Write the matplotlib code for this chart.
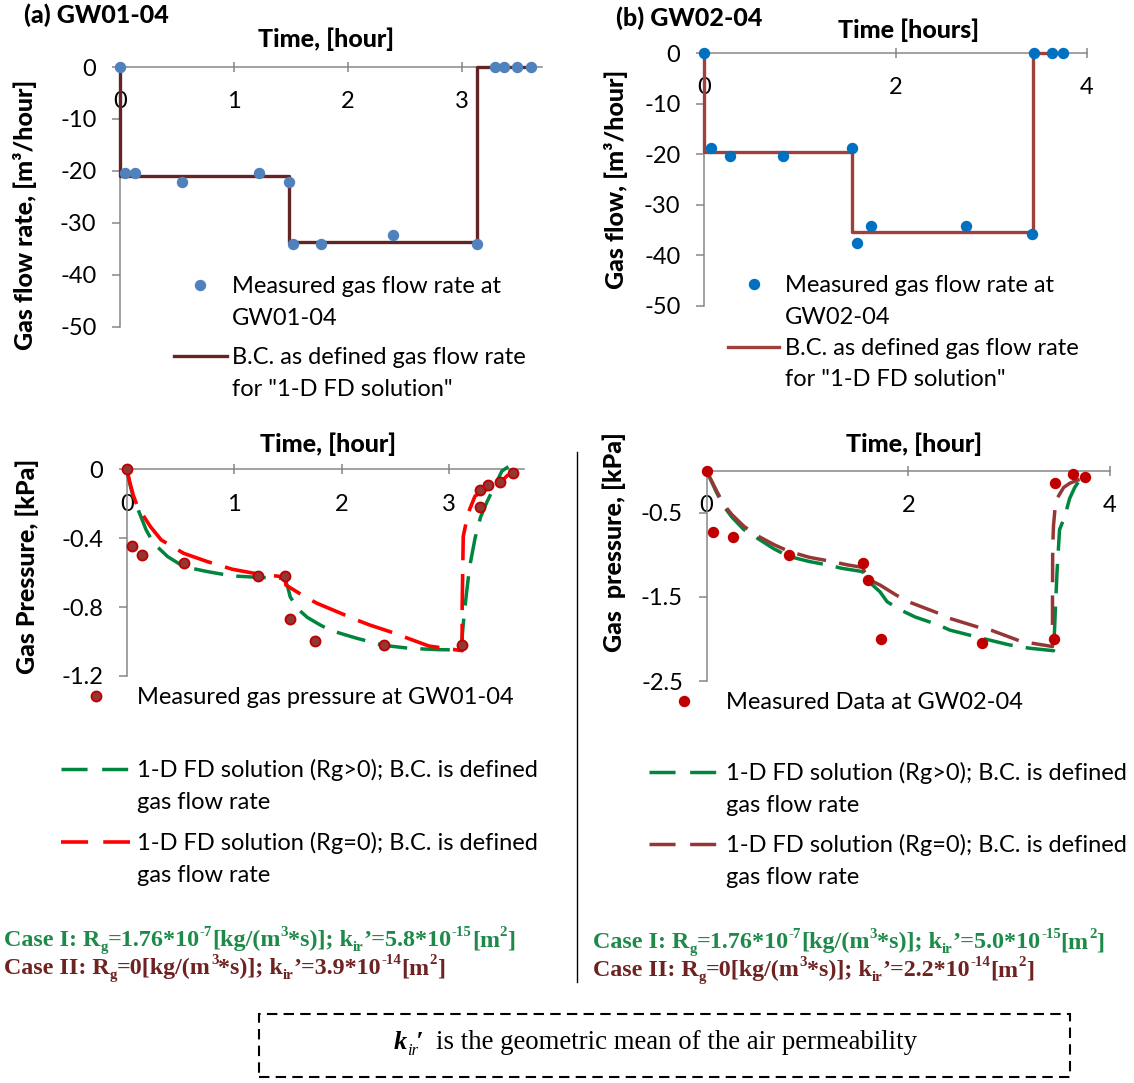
import matplotlib
matplotlib.use("Agg")
import matplotlib.pyplot as plt
from matplotlib.lines import Line2D
from matplotlib.patches import Rectangle

W, H, DPI = 1134, 1083, 100
plt.rcParams["axes.unicode_minus"] = False
plt.rcParams["font.family"] = ["Lato", "DejaVu Sans"]

# ---------------- data ----------------
# (a) GW01-04 : measured gas flow rate [m3/hour]
flow_a_t = [0.0, 0.04, 0.13, 0.54, 1.22, 1.48, 1.52, 1.76, 2.39, 3.13, 3.29, 3.37, 3.48, 3.60]
flow_a_q = [0.0, -20.4, -20.4, -22.1, -20.4, -22.1, -34.0, -34.0, -32.3, -34.0, 0.0, 0.0, 0.0, 0.0]
# boundary condition (step function) used by the 1-D FD solution
bc_a_t = [0.0, 0.0, 1.48, 3.13, 3.62]
bc_a_q = [0.0, -21.0, -33.7, 0.0, 0.0]

# (b) GW02-04 : measured gas flow rate [m3/hour]
flow_b_t = [0.0, 0.07, 0.27, 0.82, 1.55, 1.60, 1.74, 2.74, 3.43, 3.45, 3.63, 3.75]
flow_b_q = [0.0, -18.7, -20.4, -20.4, -18.7, -37.5, -34.1, -34.1, -35.8, 0.0, 0.0, 0.0]
bc_b_t = [0.0, 0.0, 1.55, 3.44, 3.75]
bc_b_q = [0.0, -19.5, -35.4, 0.0, 0.0]

# (a) GW01-04 : measured gas pressure [kPa]
pres_a_t = [0.0, 0.05, 0.14, 0.53, 1.22, 1.47, 1.52, 1.75, 2.39, 3.12, 3.29, 3.29, 3.36, 3.47, 3.59]
pres_a_p = [0.0, -0.443, -0.495, -0.546, -0.619, -0.619, -0.869, -0.995, -1.022, -1.022,
            -0.221, -0.120, -0.093, -0.074, -0.023]
# 1-D FD solution, Rg > 0
fd1_a_t = [0.0, 0.03, 0.06, 0.10, 0.18, 0.25, 0.38, 0.53, 0.75, 0.98, 1.22, 1.47,
           1.50, 1.52, 1.59, 1.68, 1.80, 1.89, 2.00, 2.14, 2.39, 2.64, 2.90, 3.11,
           3.13, 3.16, 3.19, 3.24, 3.29, 3.35, 3.42, 3.49, 3.55]
fd1_a_p = [0.0, -0.09, -0.16, -0.226, -0.352, -0.43, -0.507, -0.565, -0.594, -0.619, -0.627, -0.633,
           -0.69, -0.74, -0.81, -0.86, -0.904, -0.933, -0.955, -0.981, -1.022, -1.040, -1.047, -1.049,
           -0.90, -0.72, -0.565, -0.40, -0.28, -0.19, -0.10, -0.01, 0.015]
# 1-D FD solution, Rg = 0
fd0_a_t = [0.0, 0.03, 0.06, 0.10, 0.22, 0.32, 0.53, 0.75, 0.98, 1.22, 1.47,
           1.48, 1.66, 1.77, 2.14, 2.26, 2.45, 2.81, 3.12,
           3.12, 3.13, 3.16, 3.19, 3.24, 3.34, 3.47, 3.55]
fd0_a_p = [0.0, -0.08, -0.15, -0.217, -0.333, -0.41, -0.488, -0.536, -0.58, -0.608, -0.625,
           -0.672, -0.741, -0.778, -0.875, -0.904, -0.943, -1.026, -1.053,
           -0.80, -0.39, -0.30, -0.232, -0.155, -0.12, -0.08, -0.03]

# (b) GW02-04 : measured gas pressure [kPa]
pres_b_t = [0.0, 0.067, 0.266, 0.82, 1.55, 1.60, 1.73, 2.73, 3.44, 3.455, 3.63, 3.75]
pres_b_p = [0.0, -0.725, -0.792, -1.002, -1.093, -1.30, -1.997, -2.044, -1.997, -0.151, -0.043, -0.071]
fd1_b_t = [0.0, 0.05, 0.10, 0.17, 0.25, 0.37, 0.50, 0.67, 0.82, 1.02, 1.20, 1.34, 1.55,
           1.58, 1.62, 1.72, 1.79, 1.91, 2.07, 2.30, 2.41, 2.69, 3.00, 3.20, 3.44,
           3.45, 3.46, 3.475, 3.49, 3.50, 3.55, 3.60, 3.65, 3.72, 3.76]
fd1_b_p = [0.0, -0.13, -0.26, -0.42, -0.55, -0.70, -0.80, -0.93, -1.02, -1.08, -1.12, -1.16, -1.20,
           -1.27, -1.33, -1.44, -1.557, -1.648, -1.74, -1.834, -1.894, -1.98, -2.07, -2.11, -2.14,
           -1.90, -1.60, -1.20, -0.90, -0.70, -0.55, -0.33, -0.20, -0.071, -0.05]
fd0_b_t = [0.0, 0.05, 0.10, 0.17, 0.25, 0.37, 0.50, 0.67, 0.82, 1.02, 1.20, 1.40, 1.55,
           1.58, 1.62, 1.72, 1.88, 2.00, 2.30, 2.41, 2.68, 2.83, 3.12, 3.43,
           3.43, 3.432, 3.44, 3.455, 3.48, 3.54, 3.60, 3.68, 3.77]
fd0_b_p = [0.0, -0.12, -0.24, -0.40, -0.52, -0.66, -0.77, -0.88, -0.96, -1.03, -1.07, -1.12, -1.15,
           -1.25, -1.30, -1.359, -1.478, -1.557, -1.695, -1.755, -1.855, -1.90, -2.03, -2.09,
           -1.50, -0.90, -0.65, -0.45, -0.32, -0.20, -0.15, -0.11, -0.09]

# tick labels
flow_yticks = [0, -10, -20, -30, -40, -50]
pres_a_yticks = [0, -0.4, -0.8, -1.2]
pres_b_yticks = [-0.5, -1.5, -2.5]

# ---------------- style ----------------
AXC = "#868686"
FS = 17
FS_B = 18
BLUE_A, BLUE_B = "#4F81BD", "#0070C0"
BC_A, BC_B = "#632523", "#A0403C"
GREEN, RED, BROWN = "#00853F", "#FF0000", "#953735"
DOT_A_FACE, DOT_A_EDGE = "#943634", "#C00000"
DOT_B = "#C00000"
DASH = (8.5, 3.8)

fig = plt.figure(figsize=(W / DPI, H / DPI), dpi=DPI)


def fx(x):
    return x / W


def fy(y):
    return 1 - y / H


def axes_px(l, t, r, b):
    return fig.add_axes([fx(l), fy(b), (r - l) / W, (b - t) / H])


def style(ax, xlim, ylim, xticks, yticks, ylabels):
    ax.set_xlim(*xlim)
    ax.set_ylim(*ylim)
    ax.patch.set_visible(False)
    for s in ("top", "right"):
        ax.spines[s].set_visible(False)
    ax.spines["bottom"].set_position(("data", 0))
    for s in ("bottom", "left"):
        ax.spines[s].set_color(AXC)
        ax.spines[s].set_linewidth(1.1)
    ax.set_xticks(xticks)
    ax.set_xticklabels([f"{v:g}" for v in xticks])
    ax.set_yticks(yticks)
    ax.set_yticklabels(ylabels)
    ax.tick_params(axis="x", direction="inout", length=7, width=1.1, color=AXC,
                   pad=14, labelsize=FS)
    ax.tick_params(axis="y", direction="out", length=6, width=1.1, color=AXC,
                   pad=11, labelsize=FS)


def ftext(x, y, s, **kw):
    kw.setdefault("fontsize", FS)
    return fig.text(fx(x), fy(y), s, **kw)


def leg_line(x0, x1, y, **kw):
    fig.add_artist(Line2D([fx(x0), fx(x1)], [fy(y), fy(y)], transform=fig.transFigure, **kw))


def leg_dot(x, y, **kw):
    fig.add_artist(Line2D([fx(x)], [fy(y)], transform=fig.transFigure, linestyle="none",
                          marker="o", **kw))


# ---------------- (a) flow ----------------
ax1 = axes_px(120, 67, 542, 326.7)
style(ax1, (0, 3.7), (-50, 0), [0, 1, 2, 3], flow_yticks, [f"{v:g}" for v in flow_yticks])
ax1.plot(bc_a_t, bc_a_q, drawstyle="steps-post", color=BC_A, lw=2.4, clip_on=False, zorder=3)
ax1.plot(flow_a_t, flow_a_q, "o", color=BLUE_A, ms=7.2, clip_on=False, zorder=4)

# ---------------- (b) flow ----------------
ax2 = axes_px(704, 53, 1087, 306)
style(ax2, (0, 4), (-50, 0), [0, 2, 4], flow_yticks, [f"{v:g}" for v in flow_yticks])
ax2.plot(bc_b_t, bc_b_q, drawstyle="steps-post", color=BC_B, lw=2.4, clip_on=False, zorder=3)
ax2.plot(flow_b_t, flow_b_q, "o", color=BLUE_B, ms=7.2, clip_on=False, zorder=4)

# ---------------- (a) pressure ----------------
ax3 = axes_px(126.8, 469.3, 524.5, 676)
style(ax3, (0, 3.7), (-1.2, 0), [0, 1, 2, 3], pres_a_yticks, [f"{v:g}" for v in pres_a_yticks])
ax3.plot(fd1_a_t, fd1_a_p, color=GREEN, lw=2.5, dashes=DASH, clip_on=False, zorder=3)
ax3.plot(fd0_a_t, fd0_a_p, color=RED, lw=2.6, dashes=(10, 3.8), clip_on=False, zorder=3)
ax3.plot(pres_a_t, pres_a_p, "o", mfc=DOT_A_FACE, mec=DOT_A_EDGE, mew=1.3, ms=7.2,
         clip_on=False, zorder=4)

# ---------------- (b) pressure ----------------
ax4 = axes_px(706.5, 470.7, 1110, 681)
style(ax4, (0, 4), (-2.5, 0), [0, 2, 4], pres_b_yticks, [f"{v:g}" for v in pres_b_yticks])
ax4.plot(fd1_b_t, fd1_b_p, color=GREEN, lw=2.5, dashes=DASH, clip_on=False, zorder=3)
ax4.plot(fd0_b_t, fd0_b_p, color=BROWN, lw=2.5, dashes=DASH, clip_on=False, zorder=3)
ax4.plot(pres_b_t, pres_b_p, "o", color=DOT_B, ms=7.2, clip_on=False, zorder=4)

# ---------------- titles and axis labels ----------------
bold = dict(fontweight="black", fontsize=FS_B)
ftext(24, 15, "(a) GW01-04", ha="left", va="center", **bold)
ftext(616, 18, "(b) GW02-04", ha="left", va="center", **bold)
ftext(326.5, 39, "Time, [hour]", ha="center", va="center", **bold)
ftext(908.6, 30.5, "Time [hours]", ha="center", va="center", **bold)
ftext(328, 444, "Time, [hour]", ha="center", va="center", **bold)
ftext(914, 444, "Time, [hour]", ha="center", va="center", **bold)
rot = dict(rotation=90, ha="center", va="center", rotation_mode="anchor", **bold)
ftext(25, 215, "Gas flow rate, [m³/hour]", **rot)
ftext(616, 179, "Gas flow, [m³/hour]", **rot)
ftext(27, 566, "Gas Pressure, [kPa]", **rot)
ftext(614, 542.5, "Gas  pressure, [kPa]", **rot)

# ---------------- legends ----------------
BL = 8  # baseline offset from visual line centre
leg_dot(200, 285, color=BLUE_A, ms=7.2)
ftext(232, 285 + BL, "Measured gas flow rate at", va="baseline")
ftext(232, 317 + BL, "GW01-04", va="baseline")
leg_line(174, 227, 356, color=BC_A, lw=2.4)
ftext(232, 356 + BL, "B.C. as defined gas flow rate", va="baseline")
ftext(232, 388 + BL, 'for "1-D FD solution"', va="baseline")

leg_dot(754, 284, color=BLUE_B, ms=7.2)
ftext(785, 284 + BL, "Measured gas flow rate at", va="baseline")
ftext(785, 316 + BL, "GW02-04", va="baseline")
leg_line(728, 779, 347, color=BC_B, lw=2.4)
ftext(785, 347 + BL, "B.C. as defined gas flow rate", va="baseline")
ftext(785, 378 + BL, 'for "1-D FD solution"', va="baseline")

leg_dot(95.7, 696, mfc=DOT_A_FACE, mec=DOT_A_EDGE, mew=1.3, ms=7.2)
ftext(137, 696 + BL, "Measured gas pressure at GW01-04", va="baseline")
leg_line(61, 130, 769, color=GREEN, lw=2.5, dashes=(7.5, 4.2))
ftext(137, 769 + BL, "1-D FD solution (Rg>0); B.C. is defined", va="baseline")
ftext(137, 801 + BL, "gas flow rate", va="baseline")
leg_line(61, 130, 842, color=RED, lw=2.6, dashes=(7.5, 4.2))
ftext(137, 842 + BL, "1-D FD solution (Rg=0); B.C. is defined", va="baseline")
ftext(137, 874 + BL, "gas flow rate", va="baseline")

leg_dot(684, 701, color=DOT_B, ms=7.2)
ftext(726, 701 + BL, "Measured Data at GW02-04", va="baseline")
leg_line(649, 718, 772, color=GREEN, lw=2.5, dashes=(7.5, 4.2))
ftext(726, 772 + BL, "1-D FD solution (Rg>0); B.C. is defined", va="baseline")
ftext(726, 804 + BL, "gas flow rate", va="baseline")
leg_line(649, 718, 844, color=BROWN, lw=2.5, dashes=(7.5, 4.2))
ftext(726, 844 + BL, "1-D FD solution (Rg=0); B.C. is defined", va="baseline")
ftext(726, 876 + BL, "gas flow rate", va="baseline")

# divider between the two pressure panels
fig.add_artist(Line2D([fx(577), fx(577)], [fy(452), fy(982)], transform=fig.transFigure,
                      color="black", lw=1.0))

# ---------------- parameter notes (rich text) ----------------
renderer = fig.canvas.get_renderer()


def rich(x, y_base, pieces, size, **kw):
    """Lay out text pieces left to right; kinds: n (normal), sup, sub."""
    px = size * DPI / 72
    cx = x
    made = []
    for piece in pieces:
        txt, kind = piece[0], piece[1]
        extra = dict(kw)
        if len(piece) > 2:
            extra.update(piece[2])
        fs, dy = size, 0.0
        if kind == "sup":
            fs, dy = size * 0.62, -0.40 * px
        elif kind == "sub":
            fs, dy = size * 0.62, 0.20 * px
        t = fig.text(fx(cx), fy(y_base + dy), txt, fontsize=fs, ha="left", va="baseline", **extra)
        made.append(t)
        cx += t.get_window_extent(renderer).width
    return made, cx - x


def rich_fit(x, y_base, pieces, width, size0, **kw):
    made, w = rich(x, y_base, pieces, size0, **kw)
    for t in made:
        t.remove()
    return rich(x, y_base, pieces, size0 * width / w, **kw)


def case_pieces(label, rg, k_mant, k_exp):
    p = [(f"Case {label}: R", "n"), ("g", "sub")]
    if rg is None:
        p += [("=0[kg/(m", "n")]
    else:
        p += [(f"={rg[0]}*10", "n"), (rg[1], "sup"), ("[kg/(m", "n")]
    p += [("3", "sup"), ("*s)]; k", "n"), ("ir", "sub"), (f"’={k_mant}*10", "n"),
          (k_exp, "sup"), ("[m", "n"), ("2", "sup"), ("]", "n")]
    return p


serif_b = dict(family=["Liberation Serif"], fontweight="bold")
CASE1, CASE2 = "#1E8A4A", "#6E2222"
rich_fit(4, 946, case_pieces("I", ("1.76", "-7"), "5.8", "-15"), 512, 15, color=CASE1, **serif_b)
rich_fit(4, 974, case_pieces("II", None, "3.9", "-14"), 442, 15, color=CASE2, **serif_b)
rich_fit(593, 948, case_pieces("I", ("1.76", "-7"), "5.0", "-15"), 512, 15, color=CASE1, **serif_b)
rich_fit(593, 976, case_pieces("II", None, "2.2", "-14"), 442, 15, color=CASE2, **serif_b)

# dashed note box
fig.add_artist(Rectangle((fx(259), fy(1077)), (1070 - 259) / W, (1077 - 1014) / H,
                         transform=fig.transFigure, fill=False, edgecolor="black",
                         lw=1.5, linestyle=(0, (5, 3))))
serif = ["Liberation Serif"]
k_txt = fig.text(fx(394), fy(1049), "k", fontsize=19, family=serif, fontweight="bold",
                 fontstyle="italic", ha="left", va="baseline")
kx = 394 + k_txt.get_window_extent(renderer).width
fig.text(fx(kx), fy(1055), "ir", fontsize=12, family=serif, fontstyle="italic",
         ha="left", va="baseline")
fig.text(fx(kx + 9), fy(1049), "′", fontsize=19, family=serif, fontweight="bold",
         fontstyle="italic", ha="left", va="baseline")
note, _ = rich_fit(436, 1049, [("is the geometric mean of the air permeability", "n")], 481, 17,
                   family=serif, color="black")

fig.savefig("out.png", dpi=DPI)
